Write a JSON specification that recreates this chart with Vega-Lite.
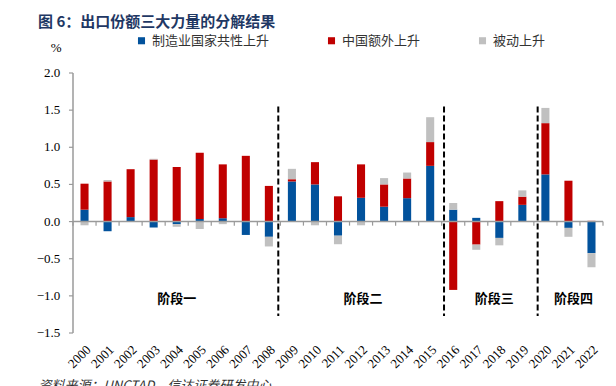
{
  "$schema": "https://vega.github.io/schema/vega-lite/v6.json",
  "width": 530,
  "height": 260,
  "autosize": "none",
  "padding": {"left": 73, "top": 73, "right": 13, "bottom": 53},
  "background": "white",
  "title": {
    "text": "图 6：出口份额三大力量的分解结果",
    "anchor": "start",
    "frame": "group",
    "dx": -35,
    "offset": 4,
    "font": "Noto Sans CJK SC",
    "fontSize": 15,
    "fontWeight": "bold",
    "color": "#1F3864"
  },
  "config": {
    "view": {"stroke": null},
    "axis": {"grid": false}
  },
  "datasets": {
    "seriesOrder": [
      {"series": "制造业国家共性上升", "rank": 1},
      {"series": "中国额外上升", "rank": 2},
      {"series": "被动上升", "rank": 3}
    ],
    "yticks": [
      {"tick": -1.5}, {"tick": -1.0}, {"tick": -0.5}, {"tick": 0.0},
      {"tick": 0.5}, {"tick": 1.0}, {"tick": 1.5}, {"tick": 2.0}
    ],
    "parts": [
      {"year": "2000", "series": "制造业国家共性上升", "value": 0.16},
      {"year": "2000", "series": "中国额外上升", "value": 0.35},
      {"year": "2000", "series": "被动上升", "value": -0.05},
      {"year": "2001", "series": "制造业国家共性上升", "value": -0.13},
      {"year": "2001", "series": "中国额外上升", "value": 0.54},
      {"year": "2001", "series": "被动上升", "value": 0.02},
      {"year": "2002", "series": "制造业国家共性上升", "value": 0.06},
      {"year": "2002", "series": "中国额外上升", "value": 0.645},
      {"year": "2002", "series": "被动上升", "value": 0.0},
      {"year": "2003", "series": "制造业国家共性上升", "value": -0.08},
      {"year": "2003", "series": "中国额外上升", "value": 0.835},
      {"year": "2003", "series": "被动上升", "value": 0.01},
      {"year": "2004", "series": "制造业国家共性上升", "value": -0.035},
      {"year": "2004", "series": "中国额外上升", "value": 0.735},
      {"year": "2004", "series": "被动上升", "value": -0.035},
      {"year": "2005", "series": "制造业国家共性上升", "value": 0.035},
      {"year": "2005", "series": "中国额外上升", "value": 0.89},
      {"year": "2005", "series": "被动上升", "value": -0.1},
      {"year": "2006", "series": "制造业国家共性上升", "value": 0.045},
      {"year": "2006", "series": "中国额外上升", "value": 0.725},
      {"year": "2006", "series": "被动上升", "value": -0.035},
      {"year": "2007", "series": "制造业国家共性上升", "value": -0.18},
      {"year": "2007", "series": "中国额外上升", "value": 0.885},
      {"year": "2007", "series": "被动上升", "value": 0.0},
      {"year": "2008", "series": "制造业国家共性上升", "value": -0.205},
      {"year": "2008", "series": "中国额外上升", "value": 0.48},
      {"year": "2008", "series": "被动上升", "value": -0.13},
      {"year": "2009", "series": "制造业国家共性上升", "value": 0.54},
      {"year": "2009", "series": "中国额外上升", "value": 0.03},
      {"year": "2009", "series": "被动上升", "value": 0.14},
      {"year": "2010", "series": "制造业国家共性上升", "value": 0.5},
      {"year": "2010", "series": "中国额外上升", "value": 0.3},
      {"year": "2010", "series": "被动上升", "value": -0.05},
      {"year": "2011", "series": "制造业国家共性上升", "value": -0.19},
      {"year": "2011", "series": "中国额外上升", "value": 0.34},
      {"year": "2011", "series": "被动上升", "value": -0.115},
      {"year": "2012", "series": "制造业国家共性上升", "value": 0.32},
      {"year": "2012", "series": "中国额外上升", "value": 0.45},
      {"year": "2012", "series": "被动上升", "value": -0.05},
      {"year": "2013", "series": "制造业国家共性上升", "value": 0.2},
      {"year": "2013", "series": "中国额外上升", "value": 0.3},
      {"year": "2013", "series": "被动上升", "value": 0.085},
      {"year": "2014", "series": "制造业国家共性上升", "value": 0.315},
      {"year": "2014", "series": "中国额外上升", "value": 0.265},
      {"year": "2014", "series": "被动上升", "value": 0.08},
      {"year": "2015", "series": "制造业国家共性上升", "value": 0.75},
      {"year": "2015", "series": "中国额外上升", "value": 0.32},
      {"year": "2015", "series": "被动上升", "value": 0.335},
      {"year": "2016", "series": "制造业国家共性上升", "value": 0.16},
      {"year": "2016", "series": "中国额外上升", "value": -0.92},
      {"year": "2016", "series": "被动上升", "value": 0.09},
      {"year": "2017", "series": "制造业国家共性上升", "value": 0.05},
      {"year": "2017", "series": "中国额外上升", "value": -0.31},
      {"year": "2017", "series": "被动上升", "value": -0.07},
      {"year": "2018", "series": "制造业国家共性上升", "value": -0.22},
      {"year": "2018", "series": "中国额外上升", "value": 0.275},
      {"year": "2018", "series": "被动上升", "value": -0.1},
      {"year": "2019", "series": "制造业国家共性上升", "value": 0.225},
      {"year": "2019", "series": "中国额外上升", "value": 0.11},
      {"year": "2019", "series": "被动上升", "value": 0.085},
      {"year": "2020", "series": "制造业国家共性上升", "value": 0.635},
      {"year": "2020", "series": "中国额外上升", "value": 0.69},
      {"year": "2020", "series": "被动上升", "value": 0.205},
      {"year": "2021", "series": "制造业国家共性上升", "value": -0.085},
      {"year": "2021", "series": "中国额外上升", "value": 0.55},
      {"year": "2021", "series": "被动上升", "value": -0.12},
      {"year": "2022", "series": "制造业国家共性上升", "value": -0.425},
      {"year": "2022", "series": "中国额外上升", "value": 0.01},
      {"year": "2022", "series": "被动上升", "value": -0.19}
    ]
  },
  "data": {"name": "parts"},
  "layer": [
    {
      "transform": [
        {"lookup": "series", "from": {"data": {"name": "seriesOrder"}, "key": "series", "fields": ["rank"]}}
      ],
      "mark": {"type": "bar"},
      "encoding": {
        "x": {
          "field": "year",
          "type": "ordinal",
          "scale": {"paddingInner": 0.65, "paddingOuter": 0.325},
          "axis": {
            "orient": "bottom",
            "domain": false,
            "ticks": false,
            "labelAngle": -45,
            "labelPadding": 10,
            "labelFont": "Liberation Serif",
            "labelFontSize": 13,
            "labelColor": "#000000",
            "labelOverlap": false,
            "title": "资料来源：UNCTAD，信达证券研发中心",
            "titleX": -35,
            "titleY": 52,
            "titleAlign": "left",
            "titleBaseline": "middle",
            "titleFont": "Noto Sans CJK SC",
            "titleFontSize": 13,
            "titleFontStyle": "italic",
            "titleFontWeight": "normal",
            "titleColor": "#333333"
          }
        },
        "y": {
          "field": "value",
          "type": "quantitative",
          "stack": "zero",
          "scale": {"domain": [-1.5, 2], "nice": false},
          "axis": null
        },
        "order": {"field": "rank", "type": "quantitative", "sort": "ascending"},
        "color": {
          "field": "series",
          "type": "nominal",
          "scale": {
            "domain": ["制造业国家共性上升", "中国额外上升", "被动上升"],
            "range": ["#02529C", "#C00000", "#C0C0C0"]
          },
          "legend": {
            "orient": "none",
            "legendX": 62,
            "legendY": -39,
            "direction": "horizontal",
            "title": null,
            "symbolType": "square",
            "symbolSize": 50,
            "symbolStrokeWidth": 0,
            "symbolOpacity": 1,
            "labelFont": "Noto Sans CJK SC",
            "labelFontSize": 13,
            "labelColor": "#333333",
            "labelOffset": 4,
            "columnPadding": 55
          }
        }
      }
    },
    {
      "data": {"values": [{}]},
      "mark": {"type": "rule", "color": "#9A9A9A", "strokeWidth": 1.5},
      "encoding": {
        "x": {"datum": "2000", "type": "ordinal", "bandPosition": -0.9286},
        "x2": {"datum": "2022", "bandPosition": 1.9286},
        "y": {"datum": 0, "type": "quantitative", "axis": null}
      }
    },
    {
      "data": {"values": [{}]},
      "mark": {"type": "rule", "color": "#9A9A9A", "strokeWidth": 1.5},
      "encoding": {
        "x": {"datum": "2000", "type": "ordinal", "bandPosition": -0.9286},
        "y": {"datum": -1.5, "type": "quantitative", "axis": null},
        "y2": {"datum": 2}
      }
    },
    {
      "data": {"name": "yticks"},
      "mark": {"type": "rule", "color": "#9A9A9A", "strokeWidth": 1.2},
      "encoding": {
        "x": {"datum": "2000", "type": "ordinal", "bandPosition": -1.43},
        "x2": {"datum": "2000", "bandPosition": -0.9286},
        "y": {"field": "tick", "type": "quantitative", "axis": null}
      }
    },
    {
      "data": {"name": "yticks"},
      "mark": {"type": "text", "font": "Liberation Serif", "fontSize": 13, "color": "#000000", "baseline": "middle", "align": "right"},
      "encoding": {
        "x": {"datum": "2000", "type": "ordinal", "bandPosition": -2.5},
        "y": {"field": "tick", "type": "quantitative", "axis": null},
        "text": {"field": "tick", "type": "quantitative", "format": ".1f"}
      }
    },
    {
      "transform": [{"filter": "datum.series === '被动上升'"}],
      "mark": {"type": "rule", "color": "#9A9A9A", "strokeWidth": 1.2},
      "encoding": {
        "x": {"field": "year", "type": "ordinal", "bandPosition": -0.9286},
        "y": {"datum": 0, "type": "quantitative", "axis": null},
        "y2": {"datum": -0.055}
      }
    },
    {
      "data": {"values": [{}]},
      "mark": {"type": "rule", "color": "#9A9A9A", "strokeWidth": 1.2},
      "encoding": {
        "x": {"datum": "2022", "type": "ordinal", "bandPosition": 1.9286},
        "y": {"datum": 0, "type": "quantitative", "axis": null},
        "y2": {"datum": -0.055}
      }
    },
    {
      "data": {"values": [{}]},
      "mark": {"type": "rule", "strokeDash": [6, 3], "strokeWidth": 2, "color": "#000000"},
      "encoding": {
        "x": {"datum": "2009", "type": "ordinal", "bandPosition": -1.19},
        "y": {"datum": 1.55, "type": "quantitative", "axis": null},
        "y2": {"datum": -1.27}
      }
    },
    {
      "data": {"values": [{}]},
      "mark": {"type": "rule", "strokeDash": [6, 3], "strokeWidth": 2, "color": "#000000"},
      "encoding": {
        "x": {"datum": "2016", "type": "ordinal", "bandPosition": -0.64},
        "y": {"datum": 1.55, "type": "quantitative", "axis": null},
        "y2": {"datum": -1.27}
      }
    },
    {
      "data": {"values": [{}]},
      "mark": {"type": "rule", "strokeDash": [6, 3], "strokeWidth": 2, "color": "#000000"},
      "encoding": {
        "x": {"datum": "2020", "type": "ordinal", "bandPosition": -0.46},
        "y": {"datum": 1.55, "type": "quantitative", "axis": null},
        "y2": {"datum": -1.27}
      }
    },
    {
      "data": {"values": [{"unit": "%"}]},
      "mark": {"type": "text", "font": "Liberation Serif", "fontSize": 13, "color": "#000000", "baseline": "middle", "align": "center", "clip": false},
      "encoding": {
        "x": {"datum": "2000", "type": "ordinal", "bandPosition": -3.0},
        "y": {"datum": 2.33, "type": "quantitative", "axis": null},
        "text": {"field": "unit"}
      }
    },
    {
      "data": {"values": [{"stage": "阶段一"}]},
      "mark": {"type": "text", "font": "Noto Sans CJK SC", "fontSize": 13, "fontWeight": "bold", "color": "#000000", "baseline": "middle", "align": "center"},
      "encoding": {
        "x": {"datum": "2004", "type": "ordinal", "bandPosition": 0.5},
        "y": {"datum": -1.04, "type": "quantitative", "axis": null},
        "text": {"field": "stage"}
      }
    },
    {
      "data": {"values": [{"stage": "阶段二"}]},
      "mark": {"type": "text", "font": "Noto Sans CJK SC", "fontSize": 13, "fontWeight": "bold", "color": "#000000", "baseline": "middle", "align": "center"},
      "encoding": {
        "x": {"datum": "2012", "type": "ordinal", "bandPosition": 0.74},
        "y": {"datum": -1.04, "type": "quantitative", "axis": null},
        "text": {"field": "stage"}
      }
    },
    {
      "data": {"values": [{"stage": "阶段三"}]},
      "mark": {"type": "text", "font": "Noto Sans CJK SC", "fontSize": 13, "fontWeight": "bold", "color": "#000000", "baseline": "middle", "align": "center"},
      "encoding": {
        "x": {"datum": "2018", "type": "ordinal", "bandPosition": -0.12},
        "y": {"datum": -1.04, "type": "quantitative", "axis": null},
        "text": {"field": "stage"}
      }
    },
    {
      "data": {"values": [{"stage": "阶段四"}]},
      "mark": {"type": "text", "font": "Noto Sans CJK SC", "fontSize": 13, "fontWeight": "bold", "color": "#000000", "baseline": "middle", "align": "center"},
      "encoding": {
        "x": {"datum": "2021", "type": "ordinal", "bandPosition": 1.13},
        "y": {"datum": -1.04, "type": "quantitative", "axis": null},
        "text": {"field": "stage"}
      }
    }
  ]
}
